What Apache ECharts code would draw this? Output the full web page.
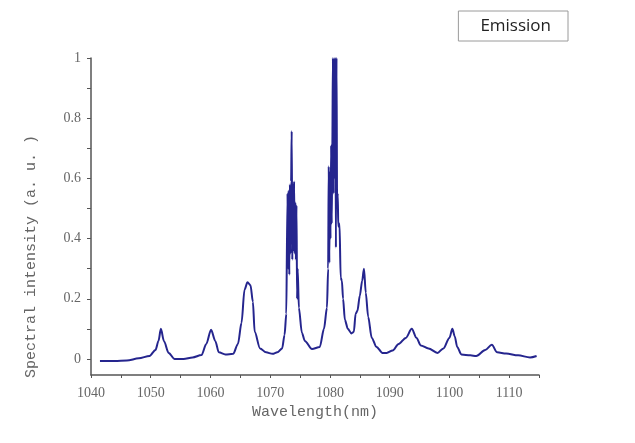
<!DOCTYPE html>
<html>
<head>
<meta charset="utf-8">
<script src="https://cdn.jsdelivr.net/npm/echarts@6/dist/echarts.min.js"></script>
<style>
  html, body { margin: 0; padding: 0; background: #fff; }
  #main { width: 635px; height: 443px; }
</style>
</head>
<body>
<div id="main"></div>
<script>
// wavelength (nm) and normalised emission intensity
var wavelength = [
  1041.5, 1044, 1046, 1048, 1049.8, 1050.8, 1051.3, 1051.7, 1052.2, 1053,
  1054, 1055.5, 1057, 1058.5, 1059.3, 1060.1, 1060.8, 1061.4, 1062.5, 1063.8,
  1064.6, 1065.2, 1065.7, 1066.2, 1066.7, 1067.1, 1067.4, 1068.3, 1069.3, 1070.4,
  1071.2, 1072.0, 1072.4, 1072.7,
  1072.8, 1072.9, 1073.0, 1073.1, 1073.2, 1073.3, 1073.4, 1073.5, 1073.6, 1073.7,
  1073.8, 1073.9, 1074.0, 1074.1, 1074.2, 1074.3, 1074.4, 1074.5, 1074.6, 1074.8,
  1075.3, 1075.8, 1077.0, 1078.3, 1079.0, 1079.5, 1079.7,
  1079.8, 1079.9, 1080.0, 1080.1, 1080.2, 1080.3, 1080.4, 1080.5, 1080.6, 1080.7,
  1080.8, 1080.9, 1081.0, 1081.1, 1081.2, 1081.3, 1081.4, 1081.6, 1081.8, 1082.0,
  1082.2, 1082.5, 1083.0, 1083.6, 1084.0, 1084.3, 1084.6, 1085.0, 1085.4, 1085.7,
  1086.0, 1086.4, 1087.0, 1087.8, 1088.8, 1089.5, 1090.5, 1091.5, 1092.7, 1093.7,
  1094.5, 1095.2, 1096.5, 1098.0, 1099.0, 1100.0, 1100.5, 1100.9, 1101.3, 1102.0,
  1103.5, 1104.5, 1106.0, 1107.1, 1108.0, 1109.5, 1111.5, 1113.5, 1114.6
];
var intensity = [
  -0.007, -0.007, -0.005, 0.002, 0.01, 0.03, 0.06, 0.1, 0.06, 0.02,
  0.0, 0.0, 0.005, 0.013, 0.05, 0.097, 0.06, 0.022, 0.015, 0.017,
  0.05, 0.12, 0.23, 0.255, 0.245, 0.19, 0.09, 0.035, 0.022, 0.017,
  0.022, 0.035, 0.08, 0.15,
  0.15, 0.55, 0.3, 0.56, 0.28, 0.58, 0.35, 0.59, 0.757, 0.33,
  0.58, 0.36, 0.59, 0.35, 0.52, 0.33, 0.51, 0.2, 0.3, 0.17,
  0.087, 0.06, 0.033, 0.04, 0.1, 0.17, 0.3,
  0.64, 0.32, 0.62, 0.4, 0.71, 0.45, 0.7, 1.0, 0.55, 1.0,
  0.6, 1.0, 0.37, 1.0, 0.5, 0.55, 0.44, 0.45, 0.27, 0.26,
  0.2, 0.13, 0.1, 0.085, 0.09, 0.15, 0.16, 0.21, 0.26, 0.3,
  0.22, 0.14, 0.07, 0.04, 0.02, 0.02, 0.028, 0.05, 0.07, 0.1,
  0.07, 0.045, 0.035, 0.02, 0.035, 0.07, 0.1, 0.075, 0.04, 0.015,
  0.012, 0.01, 0.03, 0.047, 0.022, 0.018, 0.012, 0.005, 0.01
];
var xLabels = [1040, 1050, 1060, 1070, 1080, 1090, 1100, 1110];
var xTicks = [1040, 1045, 1050, 1055, 1060, 1065, 1070, 1075, 1080, 1085, 1090, 1095, 1100, 1105, 1110, 1115];
var yLabels = [0, 0.2, 0.4, 0.6, 0.8, 1];
var yTicks = [0, 0.1, 0.2, 0.3, 0.4, 0.5, 0.6, 0.7, 0.8, 0.9, 1];

var points = wavelength.map(function (w, i) { return [w, intensity[i]]; });

var chart = echarts.init(document.getElementById('main'));
chart.setOption({
  backgroundColor: '#fff',
  animation: false,
  legend: {
    data: ['Emission'],
    right: 67,
    top: 11,
    icon: 'none',
    itemWidth: 0,
    itemHeight: 0,
    padding: [6, 17, 6, 17],
    borderColor: '#9a9a9a',
    borderWidth: 1,
    textStyle: { fontFamily: 'Open Sans', fontSize: 17, color: '#222', lineHeight: 18 }
  },
  grid: { left: 91, right: 96, top: 58, bottom: 68 },
  xAxis: {
    type: 'value',
    min: 1040,
    max: 1115,
    name: 'Wavelength(nm)',
    nameLocation: 'middle',
    nameGap: 27,
    nameTextStyle: { fontFamily: 'Liberation Mono', fontSize: 15, color: '#666' },
    axisLine: { onZero: false, lineStyle: { color: '#555', width: 1.5 } },
    axisTick: { customValues: xTicks, length: 3, lineStyle: { color: '#555' } },
    axisLabel: {
      customValues: xLabels,
      margin: 11,
      fontFamily: 'Liberation Serif',
      fontSize: 14,
      color: '#666',
      formatter: function (v) { return String(v); }
    },
    splitLine: { show: false }
  },
  yAxis: {
    type: 'value',
    min: -0.0533,
    max: 1,
    name: 'Spectral intensity (a. u. )',
    nameLocation: 'middle',
    nameGap: 52,
    nameTextStyle: { fontFamily: 'Liberation Mono', fontSize: 15, color: '#666', padding: [0, 80, 0, 0] },
    axisLine: { show: true, lineStyle: { color: '#555', width: 1.5 } },
    axisTick: { customValues: yTicks, length: 4, lineStyle: { color: '#555' } },
    axisLabel: {
      customValues: yLabels,
      margin: 10,
      fontFamily: 'Liberation Serif',
      fontSize: 14,
      color: '#666'
    },
    splitLine: { show: false }
  },
  series: [{
    name: 'Emission',
    type: 'line',
    data: points,
    showSymbol: false,
    smooth: 0.3,
    smoothMonotone: 'x',
    lineStyle: { color: '#25258e', width: 2 },
    itemStyle: { color: '#25258e' }
  }]
});
</script>
</body>
</html>
